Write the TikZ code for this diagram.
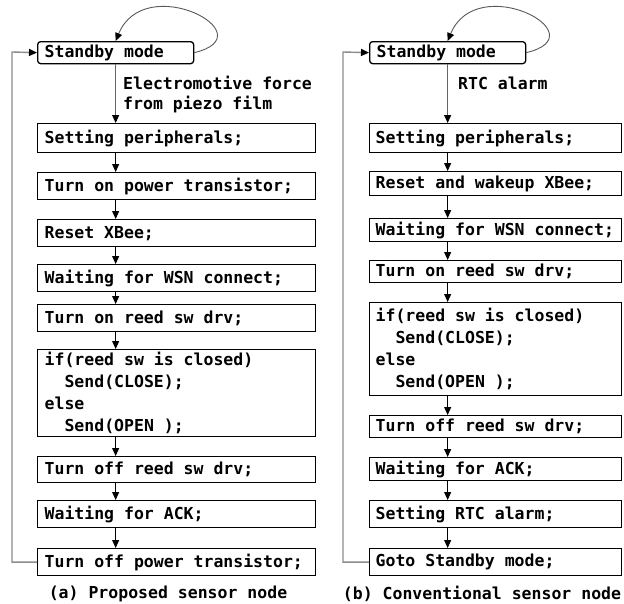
\documentclass[tikz,border=0pt]{standalone}
\usepackage{fontspec}
\newfontfamily\cmono{DejaVu Sans Mono}
\usetikzlibrary{arrows.meta,calc}
\tikzset{
  flowbox/.style={draw, line width=1.3pt, anchor=north west, inner xsep=7pt, inner ysep=0pt,
    align=flush left, font={\cmono\bfseries\fontsize{16.5}{22}\selectfont}},
  lbox/.style={flowbox, text width=264pt, minimum height=#1},
  rbox/.style={flowbox, text width=240pt, inner xsep=6pt, minimum height=#1},
  sbox/.style={flowbox, rounded corners=3pt, text width=142pt, minimum height=22pt},
  flow/.style={line width=0.9pt, -{Triangle[length=8pt,width=7pt]}},
  first/.style={draw=black!60, line width=1pt, -{Triangle[length=8pt,width=7pt,color=black]}},
  back/.style={draw=black!45, line width=1.4pt, -{Triangle[length=8pt,width=7pt,color=black]}},
  loopline/.style={draw=black!65, line width=0.9pt, -{Triangle[length=8pt,width=7pt,color=black]}},
  plain/.style={font={\cmono\bfseries\fontsize{16.5}{20}\selectfont}, align=flush left, inner sep=0pt}
}
\begin{document}
\begin{tikzpicture}[x=1pt,y=-1pt]
\useasboundingbox (0,0) rectangle (624,603);
% ---------- left column ----------
\node[sbox] (l0) at (37,41) {Standby mode};
\node[lbox=29pt] (l1) at (37,123) {Setting peripherals;};
\node[lbox=27pt] (l2) at (37,172) {Turn on power transistor;};
\node[lbox=27pt] (l3) at (37,219) {Reset XBee;};
\node[lbox=27pt] (l4) at (37,264) {Waiting for WSN connect;};
\node[lbox=27pt] (l5) at (37,304) {Turn on reed sw drv;};
\node[lbox=87pt] (l6) at (37,349) {if(reed sw is closed)\\\hspace*{19.9pt}Send(CLOSE);\\else\\\hspace*{19.9pt}Send(OPEN );};
\node[lbox=26pt] (l7) at (37,456) {Turn off reed sw drv;};
\node[lbox=27pt] (l8) at (37,500) {Waiting for ACK;};
\node[lbox=27pt] (l9) at (37,548) {Turn off power transistor;};
\node[plain, anchor=west] (la) at (123,95) {Electromotive force\\from piezo film};
\node[plain] (lcap) at (168,594) {(a) Proposed sensor node};
\coordinate (lc) at (12,52);
\draw[first] (l0.south) -- (l1.north -| l0.south);
\foreach \a/\b in {l1/l2,l2/l3,l3/l4,l4/l5,l5/l6,l6/l7,l7/l8,l8/l9}
  \draw[flow] (\a.south -| l0.south) -- (\b.north -| l0.south);
\draw[back] (l9.west) -| (lc) -- (l0.west);
\draw[loopline] (l0.east) .. controls (268,35) and (145,-30) .. (l0.north);
% ---------- right column ----------
\node[sbox] (r0) at (369,41) {Standby mode};
\node[rbox=29pt] (r1) at (369,123) {Setting peripherals;};
\node[rbox=24pt] (r2) at (369,171) {Reset and wakeup XBee;};
\node[rbox=23pt] (r3) at (369,218) {Waiting for WSN connect;};
\node[rbox=22pt] (r4) at (369,260) {Turn on reed sw drv;};
\node[rbox=93pt] (r5) at (369,302) {if(reed sw is closed)\\\hspace*{19.9pt}Send(CLOSE);\\else\\\hspace*{19.9pt}Send(OPEN );};
\node[rbox=22pt] (r6) at (369,415) {Turn off reed sw drv;};
\node[rbox=23pt] (r7) at (369,457) {Waiting for ACK;};
\node[rbox=27pt] (r8) at (369,500) {Setting RTC alarm;};
\node[rbox=27pt] (r9) at (369,548) {Goto Standby mode;};
\node[plain, anchor=west] (ra) at (458,83) {RTC alarm};
\node[plain] (rcap) at (482,594) {(b) Conventional sensor node};
\coordinate (rc) at (343,52);
\draw[first] (r0.south) -- (r1.north -| r0.south);
\foreach \a/\b in {r1/r2,r2/r3,r3/r4,r4/r5,r5/r6,r6/r7,r7/r8,r8/r9}
  \draw[flow] (\a.south -| r0.south) -- (\b.north -| r0.south);
\draw[back] (r9.west) -| (rc) -- (r0.west);
\draw[loopline] (r0.east) .. controls (600,35) and (477,-30) .. (r0.north);
\end{tikzpicture}
\end{document}
